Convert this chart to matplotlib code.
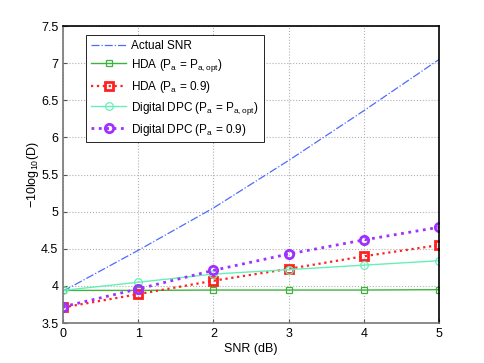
import numpy as np
import matplotlib
matplotlib.use('Agg')
import matplotlib.pyplot as plt

plt.rcParams['font.family'] = ['Liberation Sans', 'DejaVu Sans']
plt.rcParams['mathtext.fontset'] = 'custom'
plt.rcParams['mathtext.rm'] = 'Liberation Sans'

snr_db = [0, 1, 2, 3, 4, 5]
actual_snr = [3.93, 4.48, 5.05, 5.69, 6.36, 7.05]
hda_opt = [3.94, 3.94, 3.945, 3.945, 3.945, 3.95]
hda_09 = [3.71, 3.89, 4.07, 4.23, 4.40, 4.55]
dpc_opt = [3.94, 4.05, 4.16, 4.22, 4.28, 4.34]
dpc_09 = [3.72, 3.96, 4.21, 4.43, 4.62, 4.79]

labels = ['Actual SNR',
          r'HDA (P$_{\mathrm{a}}$ = P$_{\mathrm{a,opt}}$)',
          r'HDA (P$_{\mathrm{a}}$ = 0.9)',
          r'Digital DPC (P$_{\mathrm{a}}$ = P$_{\mathrm{a,opt}}$)',
          r'Digital DPC (P$_{\mathrm{a}}$ = 0.9)']

fig = plt.figure(figsize=(4.85, 3.63), dpi=100)
ax = fig.add_axes([0.13, 0.11, 0.775, 0.818])

ax.plot(snr_db, actual_snr, color='#4d6bff', linestyle='-.', linewidth=0.9, label=labels[0])
ax.plot(snr_db, hda_opt, color='#3cb43c', linestyle='-', linewidth=1.0, marker='s',
        markersize=5, markerfacecolor='none', markeredgewidth=0.9, label=labels[1])
ax.plot(snr_db, hda_09, color='#ff2020', linestyle=':', linewidth=1.6, marker='s',
        markersize=5.5, markerfacecolor='none', markeredgewidth=2.0, label=labels[2])
ax.plot(snr_db, dpc_opt, color='#66f0b8', linestyle='-', linewidth=1.0, marker='o',
        markersize=5.5, markerfacecolor='none', markeredgewidth=0.9, label=labels[3])
ax.plot(snr_db, dpc_09, color='#a030ff', linestyle=':', linewidth=2.0, marker='o',
        markersize=6, markerfacecolor='none', markeredgewidth=2.0, label=labels[4])

ax.set_xlim(0, 5)
ax.set_ylim(3.5, 7.5)
ax.set_xticks(range(0, 6))
ax.set_yticks(np.arange(3.5, 7.51, 0.5))
ax.set_yticklabels(['3.5', '4', '4.5', '5', '5.5', '6', '6.5', '7', '7.5'])
ax.grid(True, linestyle=':', color='#b0b0b0', linewidth=0.8)
ax.tick_params(direction='in', labelsize=9, length=3, color='#555555')
for s in ax.spines.values():
    s.set_color('#777777')
    s.set_linewidth(1.2)
ax.spines['right'].set_color('black')
ax.spines['top'].set_color('black')

ax.set_xlabel('SNR (dB)', fontsize=9, labelpad=2)
ax.set_ylabel(r'$-$10log$_{10}$(D)', fontsize=9, labelpad=0)

leg = ax.legend(loc='upper left', bbox_to_anchor=(0.062, 0.97), borderaxespad=0,
                fontsize=8.5, fancybox=False, framealpha=1, edgecolor='black',
                borderpad=0.4, handlelength=3.0, labelspacing=0.42, handletextpad=0.4)
leg.get_frame().set_linewidth(0.6)

fig.savefig('out.png', dpi=100)
